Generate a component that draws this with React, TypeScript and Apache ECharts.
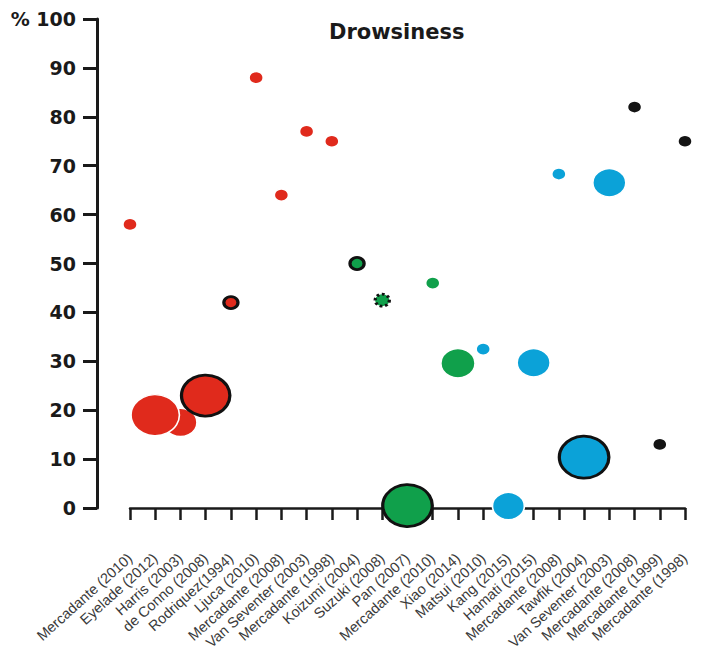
import React, { useEffect, useRef } from "react";
import * as echarts from "echarts";

const categories = [
  "Mercadante (2010)", "Eyelade (2012)", "Harris (2003)", "de Conno (2008)", "Rodriquez(1994)",
  "Ljuca (2010)", "Mercadante (2008)", "Van Seventer (2003)", "Mercadante (1998)", "Koizumi (2004)",
  "Suzuki (2008)", "Pan (2007)", "Mercadante (2010)", "Xiao (2014)", "Matsui (2010)",
  "Kang (2015)", "Hamati (2015)", "Mercadante (2008)", "Tawfik (2004)", "Van Seventer (2003)",
  "Mercadante (2008)", "Mercadante (1999)", "Mercadante (1998)",
];
const drowsiness = [58, 19, 17.5, 23, 42, 88, 64, 77, 75, 50, 42.5, 0.5, 46, 29.6, 32.5, 0.4, 29.7, 68.3, 10.4, 66.5, 82, 13, 75];
const bubbleSize = [12, 41, 28, 41, 12, 12, 12, 12, 12, 12, 12, 42, 12, 29, 12, 27, 28, 12, 42, 28, 12, 12, 12];
const groups = [
  "red", "red", "red", "red", "red", "red", "red", "red", "red",
  "green", "green", "green", "green", "green",
  "blue", "blue", "blue", "blue", "blue", "blue",
  "black", "black", "black",
];
const outline = [
  "none", "none", "none", "solid", "solid", "none", "none", "none", "none",
  "solid", "dotted", "solid", "none", "none",
  "none", "none", "none", "none", "solid", "none",
  "none", "none", "none",
];
const drawOrder = [2, 0, 1, 3, 4, 5, 6, 7, 8, 9, 10, 11, 12, 13, 14, 15, 16, 17, 18, 19, 20, 21, 22];
const yTicks = { min: 0, max: 100, interval: 10 };

const groupColor: Record<string, string> = {
  red: "#e02a1c",
  green: "#10a04b",
  blue: "#0ba2d8",
  black: "#141414",
};

export default function App() {
  const ref = useRef<HTMLDivElement>(null);
  useEffect(() => {
    if (!ref.current) return;
    const chart = echarts.init(ref.current, undefined, { renderer: "svg" });
    const data = drawOrder.map((i) => {
      const o = outline[i];
      return {
        value: [i, drowsiness[i]],
        symbolSize: [bubbleSize[i] * 1.18, bubbleSize[i]],
        itemStyle: {
          color: groupColor[groups[i]],
          opacity: 1,
          borderColor: o === "none" ? "#ffffff" : "#111111",
          borderWidth: o === "none" ? 1.5 : 3,
          borderType: o === "dotted" ? [2.5, 2.5] : "solid",
        },
      };
    });
    chart.setOption({
      animation: false,
      backgroundColor: "#ffffff",
      title: {
        text: "Drowsiness",
        left: 324,
        top: 16,
        textStyle: { fontFamily: "DejaVu Sans", fontWeight: "bold", fontSize: 21, color: "#1a1a1a" },
      },
      grid: { left: 130, right: 24, top: 19, bottom: 163 },
      xAxis: {
        type: "category",
        data: categories,
        boundaryGap: false,
        offset: 36,
        axisLine: { lineStyle: { color: "#1a1a1a", width: 2.5 } },
        axisTick: { length: 12, lineStyle: { color: "#1a1a1a", width: 2.5 } },
        axisLabel: {
          interval: 0,
          rotate: 42,
          margin: 12,
          fontFamily: "Liberation Sans",
          fontSize: 14.5,
          color: "#3a3a3a",
        },
        splitLine: { show: false },
      },
      yAxis: {
        type: "value",
        min: yTicks.min,
        max: yTicks.max,
        interval: yTicks.interval,
        offset: 33,
        axisLine: { show: true, lineStyle: { color: "#1a1a1a", width: 3 } },
        axisTick: { show: true, length: 14, lineStyle: { color: "#1a1a1a", width: 3 } },
        axisLabel: {
          margin: 21,
          fontFamily: "DejaVu Sans",
          fontWeight: "bold",
          fontSize: 19,
          color: "#1a1a1a",
          formatter: (v: number) => (v === 100 ? "% 100" : String(v)),
        },
        splitLine: { show: false },
      },
      series: [
        {
          type: "scatter",
          symbol: "circle",
          data,
          clip: false,
        },
      ],
    });
    return () => chart.dispose();
  }, []);
  return <div ref={ref} style={{ width: 709, height: 671, position: "absolute", left: 0, top: 0 }} />;
}
